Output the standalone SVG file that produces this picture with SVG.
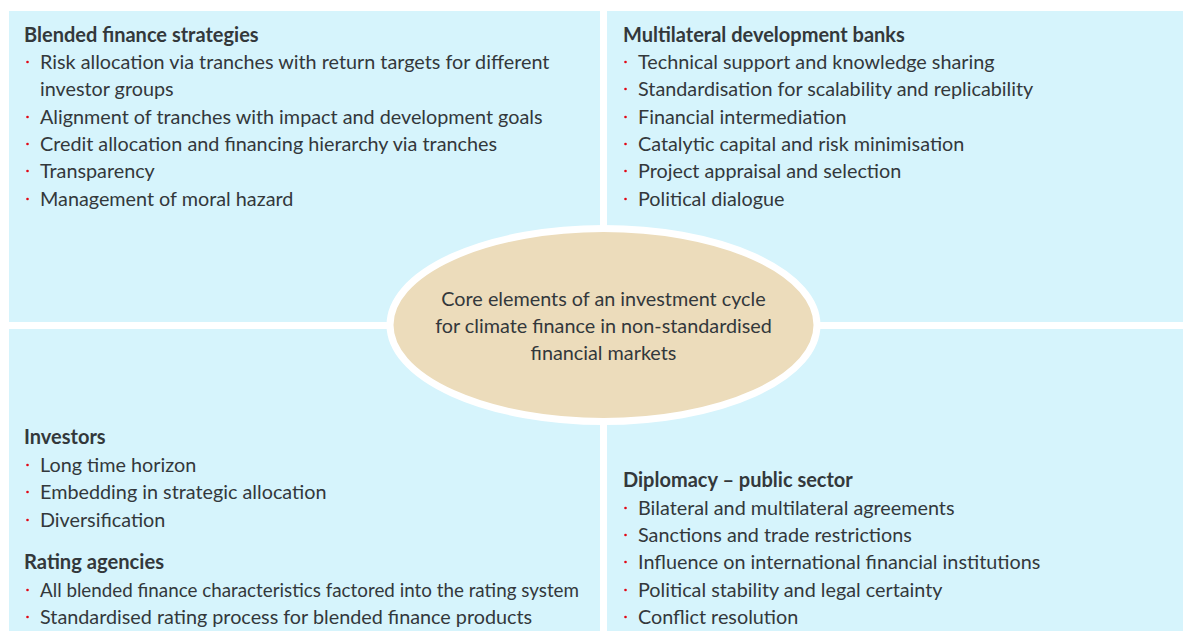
<svg xmlns="http://www.w3.org/2000/svg" width="1183" height="631" viewBox="0 0 1183 631">
<style>
.panel{fill:#d6f4fc}
.t{font-family:Lato,"Open Sans","Liberation Sans",sans-serif;font-size:19.8px;fill:#33383b}
.h{font-weight:bold;font-size:20px}
.b{fill:#e30613}
.c{text-anchor:middle}
</style>
<rect width="1183" height="631" fill="#ffffff"/>
<g id="blended-finance">
<rect class="panel" x="9" y="11" width="591" height="311"/>
<text class="t h" x="24" y="42">Blended finance strategies</text>
<circle class="b" cx="27.5" cy="62" r="1.3"/><text class="t" x="40" y="69">Risk allocation via tranches with return targets for different</text>
<text class="t" x="40" y="96">investor groups</text>
<circle class="b" cx="27.5" cy="117" r="1.3"/><text class="t" x="40" y="124">Alignment of tranches with impact and development goals</text>
<circle class="b" cx="27.5" cy="144" r="1.3"/><text class="t" x="40" y="151">Credit allocation and financing hierarchy via tranches</text>
<circle class="b" cx="27.5" cy="171" r="1.3"/><text class="t" x="40" y="178">Transparency</text>
<circle class="b" cx="27.5" cy="199" r="1.3"/><text class="t" x="40" y="206">Management of moral hazard</text>
</g>
<g id="mdb">
<rect class="panel" x="607" y="11" width="576" height="311"/>
<text class="t h" x="623" y="42">Multilateral development banks</text>
<circle class="b" cx="625.5" cy="62" r="1.3"/><text class="t" x="638" y="69">Technical support and knowledge sharing</text>
<circle class="b" cx="625.5" cy="89" r="1.3"/><text class="t" x="638" y="96">Standardisation for scalability and replicability</text>
<circle class="b" cx="625.5" cy="117" r="1.3"/><text class="t" x="638" y="124">Financial intermediation</text>
<circle class="b" cx="625.5" cy="144" r="1.3"/><text class="t" x="638" y="151">Catalytic capital and risk minimisation</text>
<circle class="b" cx="625.5" cy="171" r="1.3"/><text class="t" x="638" y="178">Project appraisal and selection</text>
<circle class="b" cx="625.5" cy="199" r="1.3"/><text class="t" x="638" y="206">Political dialogue</text>
</g>
<g id="investors-rating">
<rect class="panel" x="9" y="329" width="591" height="302"/>
<text class="t h" x="24" y="444">Investors</text>
<circle class="b" cx="27.5" cy="465" r="1.3"/><text class="t" x="40" y="472">Long time horizon</text>
<circle class="b" cx="27.5" cy="492" r="1.3"/><text class="t" x="40" y="499">Embedding in strategic allocation</text>
<circle class="b" cx="27.5" cy="520" r="1.3"/><text class="t" x="40" y="527">Diversification</text>
<text class="t h" x="24" y="569" textLength="140" lengthAdjust="spacingAndGlyphs">Rating agencies</text>
<circle class="b" cx="27.5" cy="590" r="1.3"/><text class="t" x="40" y="597" textLength="539" lengthAdjust="spacingAndGlyphs">All blended finance characteristics factored into the rating system</text>
<circle class="b" cx="27.5" cy="617" r="1.3"/><text class="t" x="40" y="624">Standardised rating process for blended finance products</text>
</g>
<g id="diplomacy">
<rect class="panel" x="607" y="329" width="576" height="302"/>
<text class="t h" x="623" y="487">Diplomacy – public sector</text>
<circle class="b" cx="625.5" cy="508" r="1.3"/><text class="t" x="638" y="515">Bilateral and multilateral agreements</text>
<circle class="b" cx="625.5" cy="535" r="1.3"/><text class="t" x="638" y="542">Sanctions and trade restrictions</text>
<circle class="b" cx="625.5" cy="562" r="1.3"/><text class="t" x="638" y="569">Influence on international financial institutions</text>
<circle class="b" cx="625.5" cy="590" r="1.3"/><text class="t" x="638" y="597">Political stability and legal certainty</text>
<circle class="b" cx="625.5" cy="617" r="1.3"/><text class="t" x="638" y="624">Conflict resolution</text>
</g>
<g id="core">
<ellipse cx="603.5" cy="325" rx="213.5" ry="96.5" fill="#ecdcbb" stroke="#ffffff" stroke-width="7"/>
<text class="t c" x="603.5" y="306">Core elements of an investment cycle</text>
<text class="t c" x="603.5" y="333">for climate finance in non-standardised</text>
<text class="t c" x="603.5" y="360">financial markets</text>
</g>
<g id="connectors"></g>
</svg>
